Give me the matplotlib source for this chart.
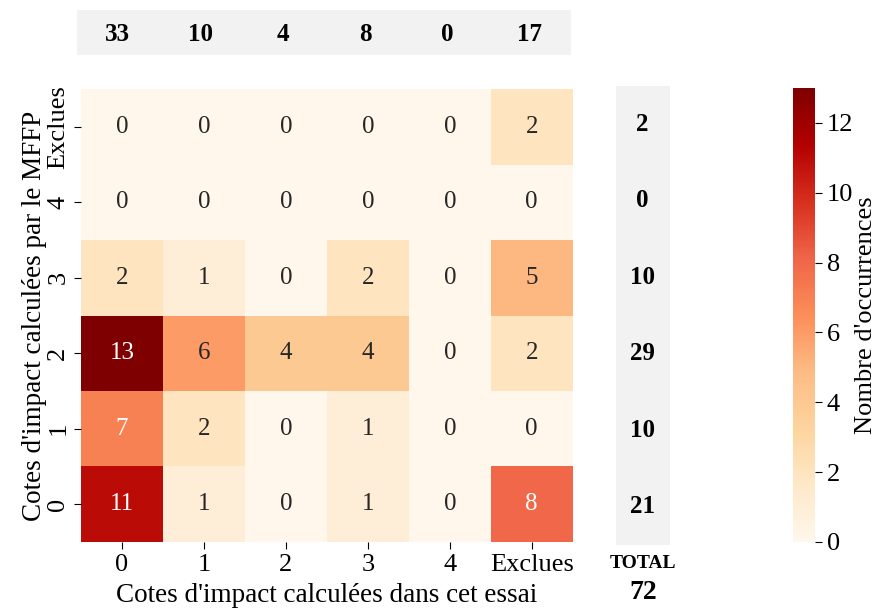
import numpy as np
import matplotlib
matplotlib.use("Agg")
import matplotlib.pyplot as plt
import seaborn as sns

plt.rcParams['font.family'] = ['Liberation Serif', 'DejaVu Serif']

col_labels = ["0", "1", "2", "3", "4", "Exclues"]
row_labels = ["Exclues", "4", "3", "2", "1", "0"]
counts = np.array([
    [0, 0, 0, 0, 0, 2],
    [0, 0, 0, 0, 0, 0],
    [2, 1, 0, 2, 0, 5],
    [13, 6, 4, 4, 0, 2],
    [7, 2, 0, 1, 0, 0],
    [11, 1, 0, 1, 0, 8],
])
col_totals = counts.sum(axis=0)
row_totals = counts.sum(axis=1)
grand_total = counts.sum()

fig = plt.figure(figsize=(8.81, 6.11), dpi=100)

ax = fig.add_axes([0.092, 0.113, 0.558, 0.741])
cax = fig.add_axes([0.900, 0.113, 0.025, 0.743])
sns.heatmap(counts, ax=ax, cbar_ax=cax, cmap="OrRd", vmin=0, vmax=13,
            annot=True, fmt="d", annot_kws={"fontsize": 18},
            xticklabels=col_labels, yticklabels=row_labels)
ax.tick_params(axis='both', labelsize=19, length=5)
ax.set_yticklabels(row_labels, rotation=90, va='center')
ax.set_xticklabels(col_labels, rotation=0)
ax.set_xlabel("Cotes d'impact calculées dans cet essai", fontsize=19.5, labelpad=5)
ax.set_ylabel("Cotes d'impact calculées par le MFFP", fontsize=19.5, labelpad=0)

cax.tick_params(labelsize=19, length=5)
cax.set_ylabel("Nombre d'occurrences", fontsize=19, labelpad=1)
cax.set_yticks([0, 2, 4, 6, 8, 10, 12])

# column totals strip
tax = fig.add_axes([0.087, 0.910, 0.561, 0.074])
tax.set_facecolor("#f2f2f2")
tax.set_xlim(0, len(col_labels))
tax.set_ylim(0, 1)
for i, v in enumerate(col_totals):
    tax.text(i + 0.5, 0.45, str(v), ha='center', va='center',
             fontsize=18, fontweight='bold')
tax.set_xticks([])
tax.set_yticks([])
for s in tax.spines.values():
    s.set_visible(False)

# row totals strip
rax = fig.add_axes([0.699, 0.108, 0.061, 0.751])
rax.set_facecolor("#f2f2f2")
rax.set_xlim(0, 1)
rax.set_ylim(len(row_labels), 0)
for j, v in enumerate(row_totals):
    rax.text(0.5, j + 0.5, str(v), ha='center', va='center',
             fontsize=18, fontweight='bold')
rax.set_xticks([])
rax.set_yticks([])
for s in rax.spines.values():
    s.set_visible(False)

fig.text(0.730, 0.077, "TOTAL", ha='center', va='center',
         fontsize=14, fontweight='bold')
fig.text(0.730, 0.030, str(grand_total), ha='center', va='center',
         fontsize=20, fontweight='bold')

fig.savefig("out.png", dpi=100)
